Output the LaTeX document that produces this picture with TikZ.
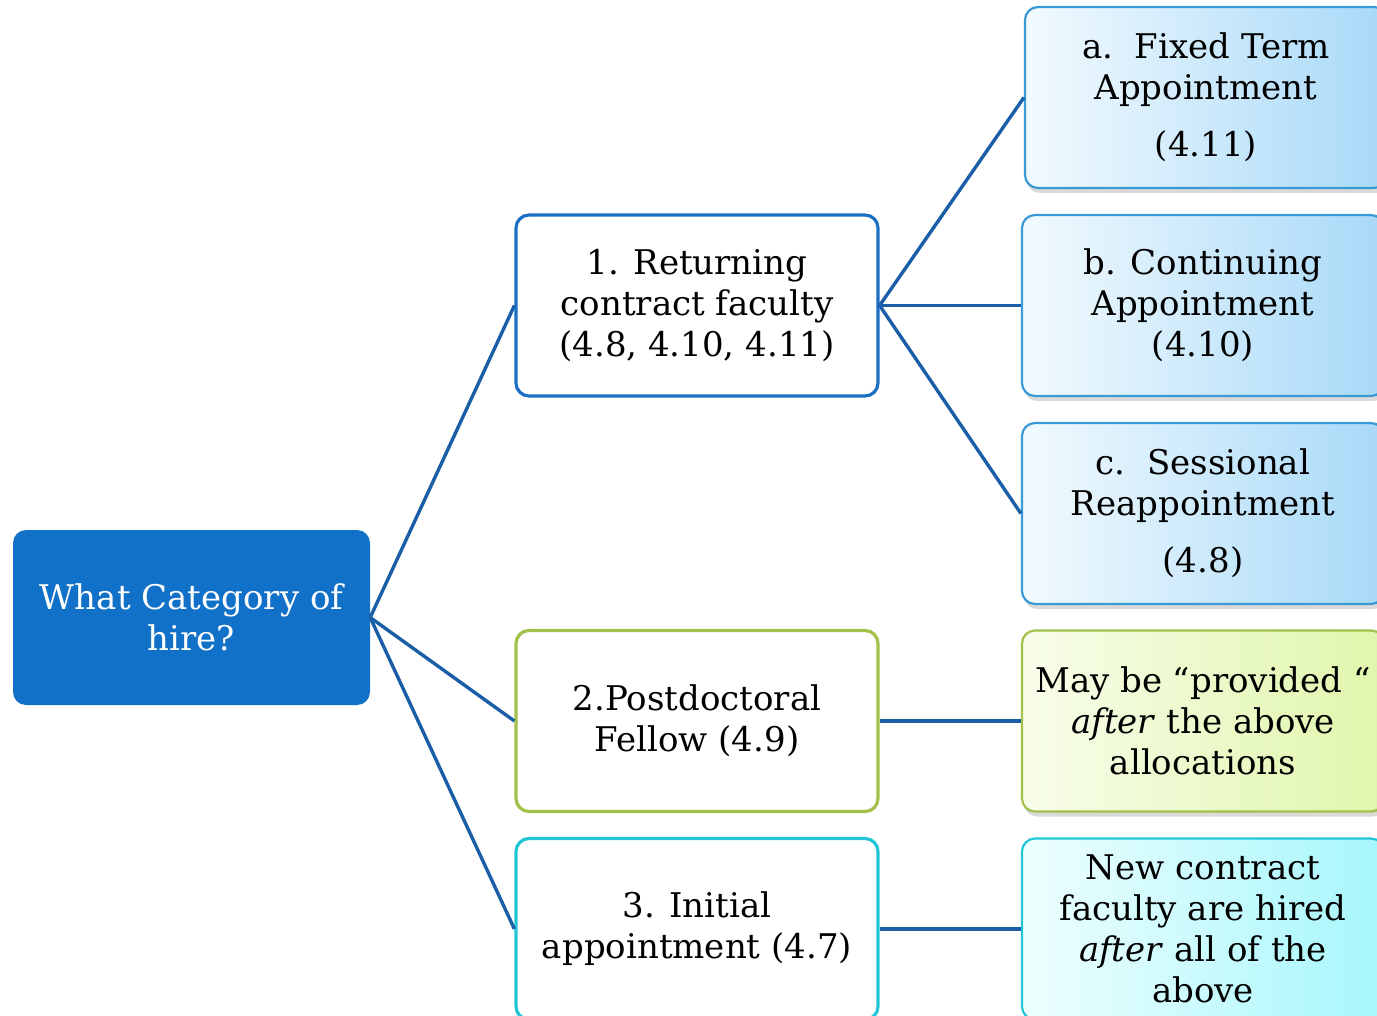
\documentclass[tikz,border=0pt]{standalone}
\usepackage{fontspec}
\setmainfont{DejaVu Serif}
\usetikzlibrary{shadows}
\definecolor{rootblue}{HTML}{1170C8}
\definecolor{linkblue}{HTML}{1A5EA8}
\definecolor{boxblue}{HTML}{1A6FC4}
\definecolor{boxolive}{HTML}{A2C04A}
\definecolor{boxcyan}{HTML}{22C6D6}
\definecolor{pale}{HTML}{F2FAFE}
\definecolor{sky}{HTML}{A8D9F8}
\definecolor{skyedge}{HTML}{3A9AD6}
\definecolor{lime}{HTML}{F8FDEA}
\definecolor{limedark}{HTML}{E0F6AC}
\definecolor{aqua}{HTML}{EEFEFE}
\definecolor{aquadark}{HTML}{A6F7FC}
\begin{document}
\begin{tikzpicture}[x=1pt,y=-1pt,
  box/.style={rounded corners=13pt,minimum width=362pt,minimum height=181pt,
    align=center,inner sep=0pt,font=\fontsize{34}{41}\selectfont},
  midbox/.style={box,draw,line width=3.2pt,fill=white},
  leaf/.style={box,draw,line width=2.2pt,
    drop shadow={opacity=0.3,shadow xshift=2pt,shadow yshift=-5pt}},
  link/.style={linkblue,line width=3.4pt}]
\useasboundingbox (0,0) rectangle (1377,1016);

% first level
\node[box,fill=rootblue,text=white,minimum width=357pt,minimum height=175pt]
  (hire) at (191.5,617.5) {What Category of\\hire?};

% second level
\node[midbox,draw=boxblue] (ret) at (697,305.5)
  {1. Returning\\contract faculty\\(4.8, 4.10, 4.11)};
\node[midbox,draw=boxolive] (post) at (697,721)
  {2.Postdoctoral\\Fellow (4.9)};
\node[midbox,draw=boxcyan] (init) at (697,929)
  {3. Initial\\appointment (4.7)};

% third level
\node[leaf,draw=skyedge,left color=pale,right color=sky] (fixed) at (1206,97.5)
  {a.~~Fixed Term\\Appointment\\[16pt](4.11)};
\node[leaf,draw=skyedge,left color=pale,right color=sky] (cont) at (1203,305.5)
  {b. Continuing\\Appointment\\(4.10)};
\node[leaf,draw=skyedge,left color=pale,right color=sky] (sess) at (1203,513.5)
  {c.~~Sessional\\Reappointment\\[16pt](4.8)};
\node[leaf,draw=boxolive,left color=lime,right color=limedark] (prov) at (1203,721)
  {May be “provided “\\\textit{after} the above\\allocations};
\node[leaf,draw=boxcyan,left color=aqua,right color=aquadark] (new) at (1203,929)
  {New contract\\faculty are hired\\\textit{after} all of the\\above};

% connectors
\draw[link] (hire.east) -- (ret.west);
\draw[link] (hire.east) -- (post.west);
\draw[link] (hire.east) -- (init.west);
\draw[link] (ret.east) -- (fixed.west);
\draw[link] (ret.east) -- (cont.west);
\draw[link] (ret.east) -- (sess.west);
\draw[link] (post.east) -- (prov.west);
\draw[link] (init.east) -- (new.west);
\end{tikzpicture}
\end{document}
